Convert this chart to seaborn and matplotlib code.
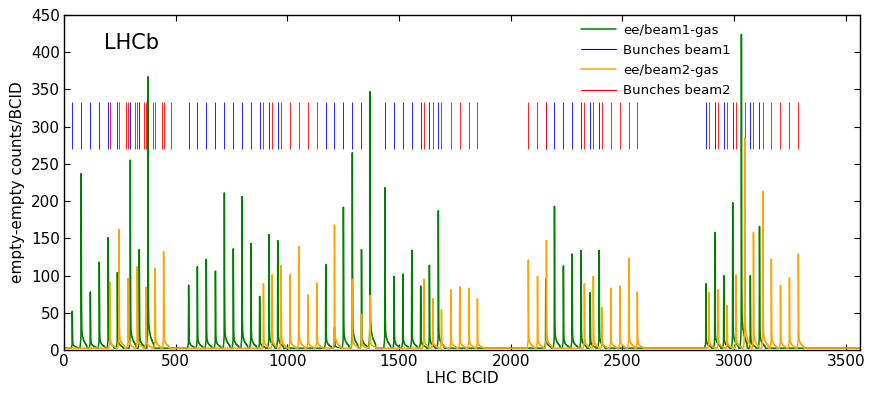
import numpy as np
import pandas as pd
import matplotlib
matplotlib.use("Agg")
import matplotlib.pyplot as plt
import seaborn as sns
from matplotlib.lines import Line2D

# ---- data ----
N_BCID = 3564

bunches_beam1 = [37, 77, 118, 158, 198, 239, 297, 337, 376,
                 558, 597, 637, 678, 718, 758, 797, 837, 876, 918, 957,
                 1172, 1211, 1251, 1291, 1332, 1370,
                 1437, 1478, 1517, 1557, 1597, 1636, 1676,
                 2157, 2196, 2236, 2275, 2315, 2356, 2396,
                 2874, 2914, 2954, 2994, 3033, 3073, 3114]

bunches_beam2 = [206, 246, 278, 287, 319, 328, 358, 367, 397, 408, 437, 446, 478,
                 893, 932, 972, 1012, 1051, 1092, 1132,
                 1611, 1651, 1690, 1732, 1772, 1813, 1851,
                 2079, 2120, 2160, 2330, 2370, 2409, 2448, 2489, 2529, 2567,
                 2888, 2929, 2969, 3009, 3048, 3087, 3129, 3167, 3208, 3248, 3288]

beam1_gas_bcid = [37, 77, 118, 158, 198, 239, 297, 337, 376,
                  558, 597, 637, 678, 718, 758, 797, 837, 876, 918, 957,
                  1172, 1211, 1251, 1291, 1332, 1370,
                  1437, 1478, 1517, 1557, 1597, 1636, 1676,
                  2157, 2196, 2236, 2275, 2315, 2356, 2396,
                  2874, 2914, 2954, 2994, 3033, 3073, 3114]
beam1_gas_counts = [52, 237, 78, 118, 151, 104, 255, 135, 367,
                    87, 112, 122, 106, 211, 136, 206, 143, 72, 155, 147,
                    115, 30, 192, 265, 135, 347,
                    218, 99, 102, 134, 86, 114, 187,
                    95, 193, 113, 129, 134, 77, 134,
                    89, 158, 100, 198, 424, 100, 166]

beam2_gas_bcid = [206, 246, 287, 328, 367, 408, 446,
                  893, 932, 972, 1012, 1051, 1092, 1132, 1211, 1291, 1332, 1370,
                  1611, 1651, 1690, 1732, 1772, 1813, 1851,
                  2079, 2120, 2160, 2330, 2370, 2409, 2448, 2489, 2529, 2567,
                  2888, 2929, 2969, 3009, 3048, 3087, 3129, 3167, 3208, 3248, 3288]
beam2_gas_counts = [91, 162, 96, 112, 84, 110, 132,
                    89, 101, 114, 101, 139, 74, 90, 168, 95, 48, 73,
                    95, 69, 54, 81, 85, 83, 69,
                    121, 99, 147, 89, 99, 57, 83, 86, 123, 78,
                    77, 81, 60, 101, 285, 158, 213, 122, 87, 97, 129]

# peak shape (fractions of the peak height)
pre_edge = [0.02, 0.03, 0.05, 0.08]
afterglow = [0.45, 0.18, 0.11, 0.09, 0.08, 0.07, 0.06, 0.06, 0.05, 0.05,
             0.045, 0.04, 0.04, 0.035, 0.035, 0.03, 0.03, 0.03, 0.025, 0.025,
             0.02, 0.02, 0.02, 0.015, 0.015]
baseline = 2.5


def build(bcids, counts):
    y = np.full(N_BCID, baseline)
    for b, h in zip(bcids, counts):
        y[b] = max(y[b], h)
        for i, f in enumerate(afterglow, start=1):
            if b + i < N_BCID:
                y[b + i] += h * f
        for i, f in enumerate(reversed(pre_edge), start=1):
            if b - i >= 0:
                y[b - i] += h * f
    return y


x = np.arange(N_BCID)
df1 = pd.DataFrame({"bcid": x, "counts": build(beam1_gas_bcid, beam1_gas_counts)})
df2 = pd.DataFrame({"bcid": x, "counts": build(beam2_gas_bcid, beam2_gas_counts)})

# ---- plot ----
sns.set_style("ticks")
plt.rcParams["font.family"] = ["DejaVu Sans"]
plt.rcParams["xtick.direction"] = "in"
plt.rcParams["ytick.direction"] = "in"
for key in ["text.color", "axes.labelcolor", "xtick.color", "ytick.color",
            "axes.edgecolor"]:
    plt.rcParams[key] = "black"

fig = plt.figure(figsize=(8.72, 3.96), dpi=100)
ax = fig.add_axes([64 / 872, 46 / 396, 796 / 872, 335 / 396])

ax.vlines(bunches_beam1, 270, 333, colors="#0000ff", linewidth=0.6)
ax.vlines(bunches_beam2, 270, 333, colors="#ff0000", linewidth=0.6)
sns.lineplot(data=df1, x="bcid", y="counts", color="green", linewidth=1.1,
             ax=ax, legend=False)
sns.lineplot(data=df2, x="bcid", y="counts", color="orange", linewidth=1.1,
             ax=ax, legend=False)

ax.set_xlim(0, N_BCID)
ax.set_ylim(0, 450)
ax.set_xticks(np.arange(0, 3501, 500))
ax.set_yticks(np.arange(0, 451, 50))
ax.tick_params(axis="both", which="major", direction="in", length=4, width=0.8,
               top=True, right=True, labelsize=11, pad=3, colors="black")
for s in ax.spines.values():
    s.set_linewidth(1.0)
    s.set_color("black")
ax.set_xlabel("LHC BCID", fontsize=11, labelpad=1, color="black")
ax.set_ylabel("empty-empty counts/BCID", fontsize=11, labelpad=4, color="black")

ax.text(0.05, 0.915, "LHCb", transform=ax.transAxes, fontsize=15,
        ha="left", va="center", color="black")

labels = ["ee/beam1-gas", "Bunches beam1", "ee/beam2-gas", "Bunches beam2"]
leg_handles = [Line2D([], [], color="green", lw=1.1),
               Line2D([], [], color="#0000ff", lw=0.8),
               Line2D([], [], color="orange", lw=1.1),
               Line2D([], [], color="#ff0000", lw=0.8)]
leg = ax.legend(leg_handles, labels, loc="upper left", bbox_to_anchor=(0.635, 1.01),
                frameon=False, fontsize=9.5, handlelength=2.6, labelspacing=0.55,
                handletextpad=0.55)
for t in leg.get_texts():
    t.set_color("black")

fig.savefig("out.png", dpi=100)
